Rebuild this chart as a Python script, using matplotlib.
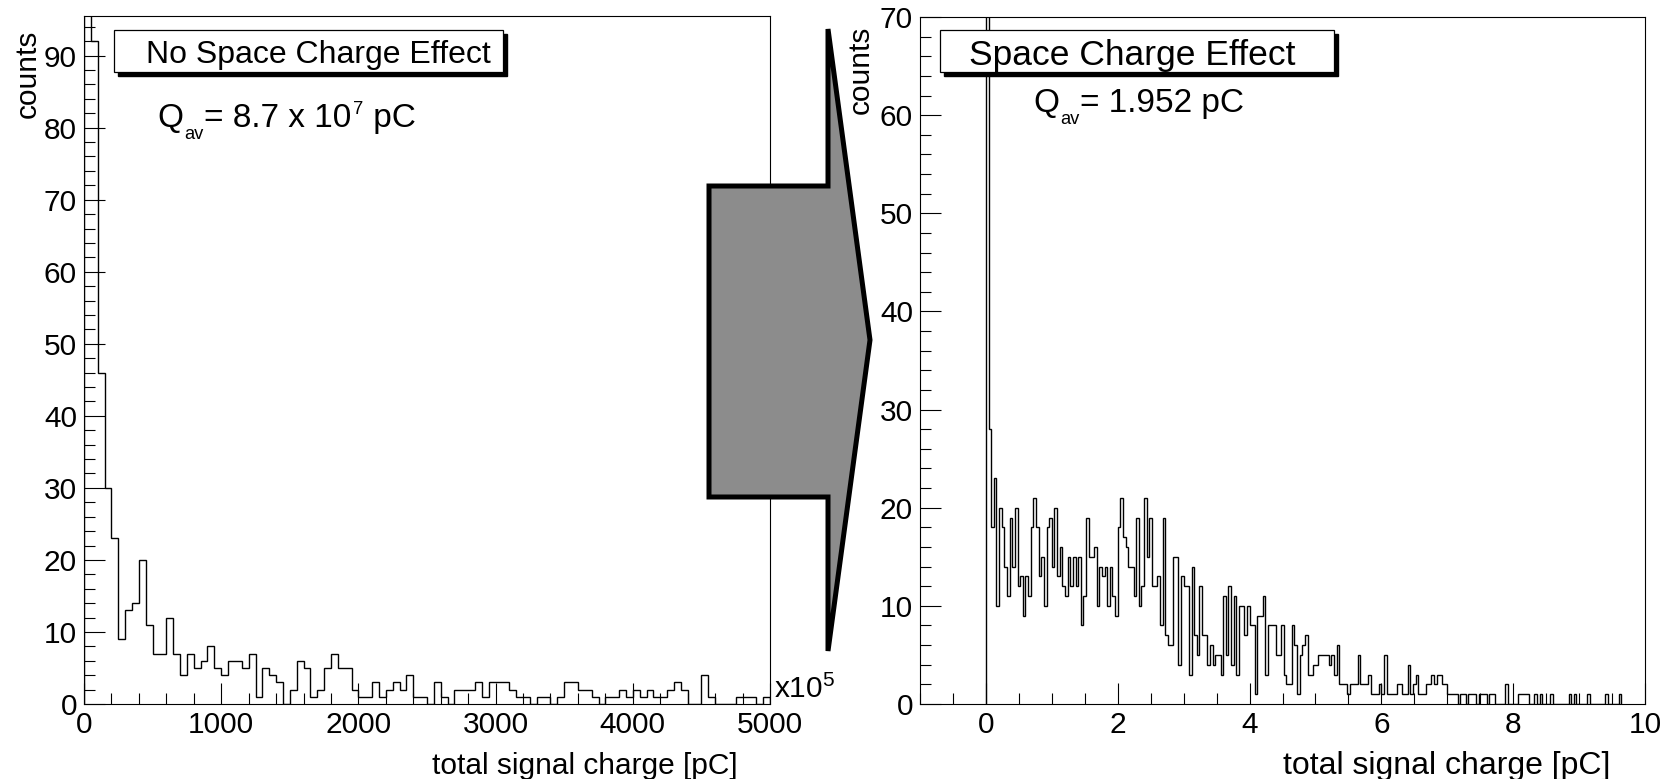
"""Signal charge spectra: without vs. with space charge effect."""

import numpy as np
import matplotlib.pyplot as plt
from matplotlib.patches import Polygon, Rectangle
from matplotlib.ticker import MultipleLocator

plt.rcParams["font.family"] = ["Liberation Sans", "DejaVu Sans"]
plt.rcParams["mathtext.fontset"] = "custom"
plt.rcParams["mathtext.rm"] = "Liberation Sans"

# ---- data ----
# left: no space charge effect, bins of 50 (x10^5 pC) from 0 to 5000
left_bin_width = 50
left_counts = [
    130, 92, 46, 30, 23, 9, 13, 14, 20, 11,
    7, 7, 12, 7, 4, 7, 5, 6, 8, 5,
    4, 6, 6, 5, 7, 1, 5, 4, 3, 0,
    2, 6, 5, 1, 2, 5, 7, 5, 5, 2,
    1, 1, 3, 1, 2, 3, 2, 4, 1, 1,
    0, 3, 1, 0, 2, 2, 2, 3, 1, 3,
    3, 3, 2, 1, 1, 0, 1, 1, 0, 1,
    3, 3, 2, 2, 1, 0, 1, 1, 2, 1,
    2, 1, 2, 1, 1, 2, 3, 2, 0, 0,
    4, 1, 0, 0, 0, 1, 1, 1, 0, 1,
]

# right: space charge effect, bins of 0.04 pC starting at 0
right_bin_width = 0.04
right_counts = [
    95, 28, 18, 23, 10, 20, 18, 14, 11, 19,
    14, 20, 12, 13, 9, 13, 11, 18, 21, 18,
    13, 15, 10, 18, 19, 14, 20, 13, 16, 12,
    11, 15, 12, 15, 12, 15, 8, 11, 19, 15,
    15, 16, 10, 14, 13, 14, 10, 14, 11, 9,
    18, 21, 17, 16, 14, 14, 11, 19, 10, 12,
    21, 15, 19, 12, 12, 13, 8, 19, 7, 6,
    6, 15, 15, 4, 13, 12, 12, 3, 14, 7,
    5, 12, 7, 7, 4, 6, 4, 5, 5, 3,
    11, 5, 12, 4, 11, 3, 10, 10, 7, 10,
    8, 8, 1, 9, 9, 11, 3, 8, 8, 8,
    5, 5, 8, 3, 2, 2, 8, 6, 1, 5,
    6, 7, 3, 3, 4, 4, 5, 5, 5, 5,
    4, 5, 3, 6, 2, 2, 2, 1, 2, 2,
    2, 5, 2, 2, 2, 3, 1, 1, 1, 2,
    1, 5, 1, 1, 1, 1, 2, 2, 1, 1,
    4, 1, 2, 3, 1, 1, 1, 2, 2, 3,
    2, 3, 3, 2, 2, 1, 1, 1, 1, 0,
    1, 1, 0, 1, 1, 1, 0, 1, 1, 1,
    0, 1, 1, 0, 0, 0, 0, 2, 0, 0,
    0, 0, 1, 1, 1, 1, 0, 0, 1, 0,
    1, 0, 0, 0, 1, 0, 0, 0, 0, 0,
    0, 1, 0, 1, 0, 0, 0, 0, 1, 0,
    0, 0, 0, 0, 0, 1, 0, 0, 0, 0,
    1,
]

left_title = "No Space Charge Effect"
right_title = "Space Charge Effect"
# (text, size scale, vertical shift in px; + = up)
left_qav = [("Q", 1.0, 0), ("av", 0.55, -12), ("= 8.7 x 10", 1.0, 0),
            ("7", 0.55, 13), (" pC", 1.0, 0)]
right_qav = [("Q", 1.0, 0), ("av", 0.55, -12), ("= 1.952 pC", 1.0, 0)]
xlabel = "total signal charge [pC]"
ylabel = "counts"

# ---- layout helpers (pixel coords, origin top-left) ----
W, H = 1667, 779


def fx(px):
    return px / W


def fy(py):
    return 1 - py / H


fig = plt.figure(figsize=(W / 100, H / 100), dpi=100)
renderer = fig.canvas.get_renderer()
axL = fig.add_axes([fx(84), fy(704), (770 - 84) / W, (704 - 16) / H])
axR = fig.add_axes([fx(920), fy(704), (1645 - 920) / W, (704 - 17) / H])

left_edges = np.arange(len(left_counts) + 1) * left_bin_width
right_edges = np.arange(len(right_counts) + 1) * right_bin_width
axL.stairs(left_counts, left_edges, color="k", linewidth=1.0)
axR.stairs(right_counts, right_edges, color="k", linewidth=1.0)

axL.set_xlim(0, 5000)
axL.set_ylim(0, 95.5)
axR.set_xlim(-1, 10)
axR.set_ylim(0, 70)


def style(ax, xmaj, xmin, ymaj, ymin):
    ax.xaxis.set_major_locator(MultipleLocator(xmaj))
    ax.xaxis.set_minor_locator(MultipleLocator(xmin))
    ax.yaxis.set_major_locator(MultipleLocator(ymaj))
    ax.yaxis.set_minor_locator(MultipleLocator(ymin))
    ax.tick_params(which="major", direction="in", length=15, width=0.8,
                   labelsize=21.5, top=False, right=False, pad=5)
    ax.tick_params(which="minor", direction="in", length=8, width=0.8,
                   top=False, right=False)
    for s in ax.spines.values():
        s.set_linewidth(0.8)


style(axL, 1000, 200, 10, 2)
style(axR, 2, 0.5, 10, 2)


def text_runs(x_px, base_px, runs, size):
    """Write pieces one after another (sub/superscripts done by hand)."""
    x = x_px
    for s, scale, dy in runs:
        t = fig.text(fx(x), fy(base_px - dy), s, fontsize=size * scale,
                     ha="left", va="baseline")
        x += t.get_window_extent(renderer).width + 1


# axis titles, ROOT style: right / top aligned
fig.text(fx(738), fy(752), xlabel, fontsize=21.5, ha="right", va="top")
fig.text(fx(1610), fy(751), xlabel, fontsize=23, ha="right", va="top")
fig.text(fx(28), fy(30), ylabel, fontsize=21.5, rotation=90, ha="center", va="top")
fig.text(fx(861), fy(26), ylabel, fontsize=21.5, rotation=90, ha="center", va="top")
fig.text(fx(774), fy(704), r"$\mathregular{x10^{5}}$", fontsize=21.5,
         ha="left", va="bottom")

# title boxes with drop shadow
for x0, x1, txt, tx, fs in [(114, 503, left_title, 146, 23),
                            (940, 1334, right_title, 969, 25.5)]:
    y0, y1 = 30, 72
    fig.patches.append(Rectangle((fx(x0 + 4), fy(y1 + 4)), (x1 - x0) / W, (y1 - y0) / H,
                                 transform=fig.transFigure, facecolor="k",
                                 edgecolor="k", zorder=5))
    fig.patches.append(Rectangle((fx(x0), fy(y1)), (x1 - x0) / W, (y1 - y0) / H,
                                 transform=fig.transFigure, facecolor="white",
                                 edgecolor="k", linewidth=0.9, zorder=6))
    fig.text(fx(tx), fy((y0 + y1) / 2 + 1), txt, fontsize=fs, ha="left",
             va="center_baseline", zorder=7)

text_runs(157, 127, left_qav, 24)
text_runs(1033, 112, right_qav, 24)

# big grey arrow between the panels
arrow_px = [(709, 186), (828, 186), (828, 29), (870, 340),
            (828, 651), (828, 497), (709, 497)]
arrow = Polygon([(fx(x), fy(y)) for x, y in arrow_px], closed=True,
                transform=fig.transFigure, facecolor="#8c8c8c",
                edgecolor="k", linewidth=3.6, joinstyle="miter", zorder=4)
fig.patches.append(arrow)

fig.savefig("out.png", dpi=100)
